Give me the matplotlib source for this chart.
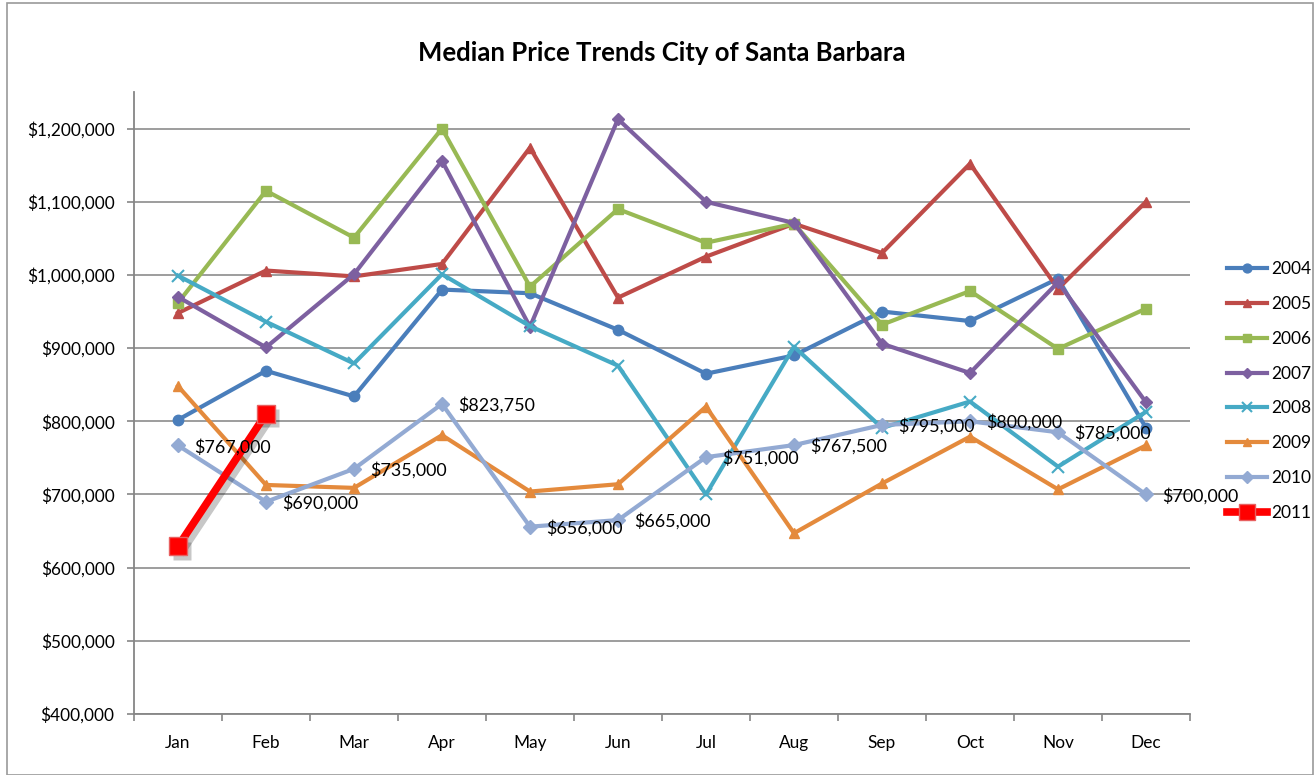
import matplotlib
matplotlib.use('Agg')
import matplotlib.pyplot as plt
from matplotlib.patches import Rectangle
from matplotlib.ticker import FuncFormatter
from matplotlib.transforms import offset_copy

plt.rcParams['font.family'] = ['Lato', 'DejaVu Sans']

months = ['Jan', 'Feb', 'Mar', 'Apr', 'May', 'Jun', 'Jul', 'Aug', 'Sep', 'Oct', 'Nov', 'Dec']

y2004 = [802000, 869000, 834000, 980000, 975000, 925000, 865000, 890000, 950000, 937000, 995000, 791000]
y2005 = [948000, 1006000, 998000, 1015000, 1174000, 969000, 1025000, 1070000, 1030000, 1152000, 981000, 1100000]
y2006 = [962000, 1115000, 1051000, 1200000, 984000, 1090000, 1044000, 1070000, 932000, 978000, 899000, 954000]
y2007 = [970000, 901000, 1001000, 1156000, 929000, 1213000, 1100000, 1071000, 906000, 866000, 990000, 826000]
y2008 = [999000, 936000, 879000, 1001000, 930000, 876000, 700000, 902000, 791000, 827000, 738000, 813000]
y2009 = [848000, 713000, 709000, 781000, 704000, 714000, 820000, 647000, 715000, 779000, 707000, 767000]
y2010 = [767000, 690000, 735000, 823750, 656000, 665000, 751000, 767500, 795000, 800000, 785000, 700000]
y2011 = [629000, 810000]

years = ['2004', '2005', '2006', '2007', '2008', '2009', '2010']
series = [y2004, y2005, y2006, y2007, y2008, y2009, y2010]
colors = ['#4A7EBB', '#BE4B48', '#98B954', '#7D60A0', '#46AAC5', '#E48A3C', '#93AAD3']
markers = ['o', '^', 's', 'D', 'x', '^', 'D']
msizes = [7.5, 7.5, 7.5, 6, 8, 7.5, 7.5]

fig = plt.figure(figsize=(13.15, 7.75), dpi=100)
ax = fig.add_axes([134 / 1315, 1 - 714 / 775, (1190 - 134) / 1315, (714 - 92) / 775])

x = list(range(len(months)))
for yr, vals, c, m, ms in zip(years, series, colors, markers, msizes):
    ax.plot(x, vals, color=c, lw=3, marker=m, ms=ms, mfc=c, mec=c,
            mew=1.5 if m == 'x' else 1, label=yr, zorder=3)

# 2011 series with a soft drop shadow
shadow = offset_copy(ax.transData, fig=fig, x=3, y=-3, units='points')
ax.plot(x[:len(y2011)], y2011, color='black', alpha=0.22, lw=6, marker='s', ms=13,
        mec='none', transform=shadow, zorder=3.5)
ax.plot(x[:len(y2011)], y2011, color='#FF0000', lw=5.5, marker='s', ms=13,
        mfc='#FF0000', mec='#E86060', mew=1, label='2011', zorder=4)

# data labels for 2010
for xi, v in zip(x, y2010):
    ax.annotate(f'${v:,.0f}', (xi, v), xytext=(12, -1), textcoords='offset points',
                ha='left', va='center', fontsize=12.9, color='black', zorder=5)

ax.set_xlim(-0.5, 11.5)
ax.set_ylim(400000, 1250000)
ax.set_yticks(range(400000, 1200001, 100000))
ax.yaxis.set_major_formatter(FuncFormatter(lambda v, p: f'${v:,.0f}'))
ax.set_xticks(x)
ax.set_xticklabels(months)
ax.set_xticks([i - 0.5 for i in range(13)], minor=True)
ax.tick_params(axis='x', which='major', length=0, pad=15, labelsize=12.4)
ax.tick_params(axis='x', which='minor', length=5, color='#868686', width=1.2)
ax.tick_params(axis='y', length=5, color='#868686', width=1.2, pad=9, labelsize=12.4)

ax.grid(axis='y', color='#8C8C8C', lw=1.2)
ax.set_axisbelow(True)
for s in ['top', 'right']:
    ax.spines[s].set_visible(False)
for s in ['left', 'bottom']:
    ax.spines[s].set_color('#868686')
    ax.spines[s].set_linewidth(1.3)

fig.text(662 / 1315, 1 - 53 / 775, 'Median Price Trends City of Santa Barbara',
         ha='center', va='center', fontsize=18.5, fontweight='bold')

fig.legend(loc='center left', bbox_to_anchor=(1227 / 1315, 1 - 391 / 775), frameon=False,
           fontsize=12.5, labelspacing=1.08, handlelength=2.3, handletextpad=0.25,
           borderpad=0, borderaxespad=0, markerscale=0.85)

fig.patches.append(Rectangle((7 / 1315, 0), 1306 / 1315, 1 - 3 / 775, transform=fig.transFigure,
                             fill=False, edgecolor='#9A9A9A', lw=1.2))

fig.savefig('out.png', dpi=100)
